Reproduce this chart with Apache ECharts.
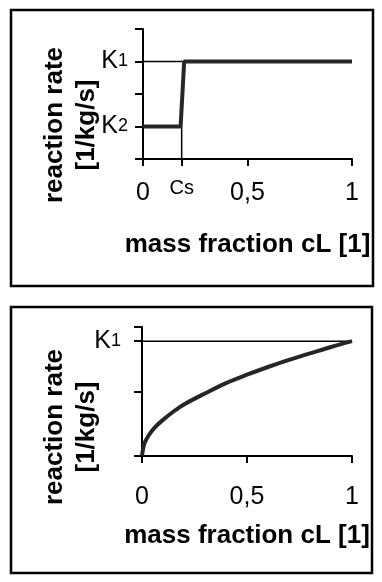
<!DOCTYPE html>
<html>
<head>
<meta charset="utf-8">
<script src="https://cdn.jsdelivr.net/npm/echarts@6/dist/echarts.min.js"></script>
<style>
  html, body { margin: 0; padding: 0; background: #fff; }
  #chart { width: 382px; height: 582px; }
</style>
</head>
<body>
<div id="chart"></div>
<script>
// top panel: step from K2 to K1 at cs
const K1 = 3;
const K2 = 1;
const cs = 0.185;
const stepX = [0, 0.18, 0.197, 1];
const stepY = [1, 1, 3, 3];

// bottom panel: rising curve up to K1 at cL = 1
const K1b = 1.78;
const curveX = [0, 0.01, 0.03, 0.06, 0.1, 0.15, 0.2, 0.3, 0.4, 0.5, 0.6, 0.7, 0.8, 0.9, 1];
const curveY = [0, 0.18, 0.31, 0.44, 0.56, 0.69, 0.8, 0.97, 1.13, 1.26, 1.38, 1.49, 1.59, 1.69, 1.78];

const xTicks = [0, 0.5, 1];
const xTitle = "mass fraction cL [1]";
const yTitle = "reaction rate\n[1/kg/s]";

const FONT = "'Liberation Sans', Arial, sans-serif";

const chart = echarts.init(document.getElementById("chart"), null, { renderer: "canvas" });

function pairs(xs, ys) {
  return xs.map((x, i) => [x, ys[i]]);
}

const axisLine = { show: true, onZero: false, lineStyle: { color: "#000", width: 2 } };
const tick = (len, values) => ({ show: true, inside: false, length: len, customValues: values, lineStyle: { color: "#000", width: 2 } });

const numRich = { n: { fontSize: 25, lineHeight: 30, color: "#000", fontFamily: FONT } };
const kRich = {
  k: { fontSize: 25, color: "#000", fontFamily: FONT },
  s: { fontSize: 18, color: "#000", fontFamily: FONT }
};

const option = {
  animation: false,
  backgroundColor: "#fff",
  grid: [
    { left: 143, top: 29, width: 209, height: 130 },
    { left: 142, top: 327, width: 210, height: 129 }
  ],
  xAxis: [
    {
      gridIndex: 0, type: "value", min: 0, max: 1,
      axisLine: axisLine,
      axisTick: tick(7, [0, cs, 0.5, 1]),
      splitLine: { show: false },
      axisLabel: {
        margin: 19,
        customValues: [0, cs, 0.5, 1],
        formatter: v => v === cs ? "{c|Cs}" : "{n|" + String(v).replace(".", ",") + "}",
        rich: Object.assign({ c: { fontSize: 20, lineHeight: 20, color: "#000", fontFamily: FONT } }, numRich)
      },
      name: xTitle, nameLocation: "middle", nameGap: 73,
      nameTextStyle: { fontSize: 26, fontWeight: "bold", color: "#000", fontFamily: FONT, lineHeight: 26 }
    },
    {
      gridIndex: 1, type: "value", min: 0, max: 1,
      axisLine: axisLine,
      axisTick: tick(7, xTicks),
      splitLine: { show: false },
      axisLabel: {
        margin: 26,
        customValues: xTicks,
        formatter: v => "{n|" + String(v).replace(".", ",") + "}",
        rich: numRich
      },
      name: xTitle, nameLocation: "middle", nameGap: 67,
      nameTextStyle: { fontSize: 26, fontWeight: "bold", color: "#000", fontFamily: FONT, lineHeight: 26 }
    }
  ],
  yAxis: [
    {
      gridIndex: 0, type: "value", min: 0, max: 4, interval: 1,
      axisLine: axisLine,
      axisTick: tick(8, [0, 1, 2, 3, 4]),
      splitLine: { show: false },
      axisLabel: {
        margin: 15,
        customValues: [K2, K1],
        formatter: v => v === K1 ? "{k|K}{s|1}" : "{k|K}{s|2}",
        rich: kRich
      }
    },
    {
      gridIndex: 1, type: "value", min: 0, max: 2, interval: 1,
      axisLine: axisLine,
      axisTick: tick(8, [0, 1, K1b, 2]),
      splitLine: { show: false },
      axisLabel: {
        margin: 21,
        customValues: [K1b],
        formatter: () => "{k|K}{s|1}",
        rich: kRich
      }
    }
  ],
  series: [
    {
      name: "K1 level", type: "line", xAxisIndex: 0, yAxisIndex: 0,
      data: [[0, K1], [1, K1]], symbol: "none", silent: true,
      lineStyle: { color: "#000", width: 1.5 }
    },
    {
      name: "cs", type: "line", xAxisIndex: 0, yAxisIndex: 0,
      data: [[cs, 0], [cs, K2]], symbol: "none", silent: true,
      lineStyle: { color: "#000", width: 1.5 }
    },
    {
      name: "step", type: "line", xAxisIndex: 0, yAxisIndex: 0,
      data: pairs(stepX, stepY), symbol: "none",
      lineStyle: { color: "#262626", width: 4 }
    },
    {
      name: "K1 level", type: "line", xAxisIndex: 1, yAxisIndex: 1,
      data: [[0, K1b], [1, K1b]], symbol: "none", silent: true,
      lineStyle: { color: "#000", width: 1.5 }
    },
    {
      name: "curve", type: "line", xAxisIndex: 1, yAxisIndex: 1,
      data: pairs(curveX, curveY), symbol: "none", smooth: 0.3,
      lineStyle: { color: "#262626", width: 4 }
    }
  ],
  graphic: [
    { type: "rect", shape: { x: 11, y: 10, width: 362, height: 276 }, style: { fill: "none", stroke: "#000", lineWidth: 2.5 } },
    { type: "rect", shape: { x: 11, y: 307, width: 361, height: 266 }, style: { fill: "none", stroke: "#000", lineWidth: 2.5 } },
    {
      type: "text", x: 71, y: 125, rotation: Math.PI / 2,
      style: { text: yTitle, fontSize: 26, fontWeight: "bold", fontFamily: FONT, fill: "#000", lineHeight: 32, align: "center", verticalAlign: "middle" }
    },
    {
      type: "text", x: 71, y: 427, rotation: Math.PI / 2,
      style: { text: yTitle, fontSize: 26, fontWeight: "bold", fontFamily: FONT, fill: "#000", lineHeight: 32, align: "center", verticalAlign: "middle" }
    }
  ]
};

chart.setOption(option);
window.addEventListener("resize", () => chart.resize());
</script>
</body>
</html>
